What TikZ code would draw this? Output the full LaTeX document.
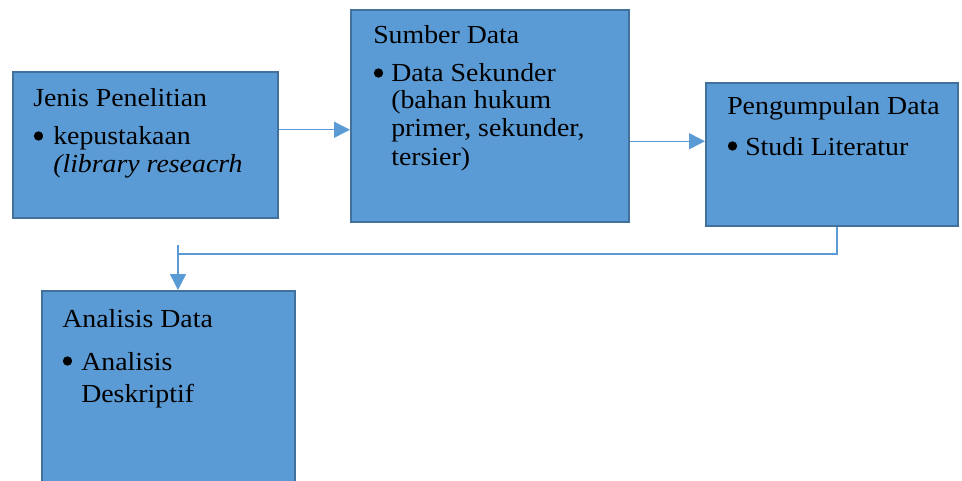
\documentclass[tikz,border=0pt]{standalone}
\usepackage{fontspec}
\setmainfont[FakeStretch=1.07]{Liberation Serif}
\usetikzlibrary{arrows.meta,calc}
\definecolor{boxfill}{HTML}{5B9BD5}
\definecolor{boxline}{HTML}{41719C}
\definecolor{connc}{HTML}{5B9BD5}
\begin{document}
\begin{tikzpicture}[x=0.75pt,y=-0.75pt,
  box/.style={draw=boxline, line width=1.5pt, fill=boxfill, anchor=north west, inner sep=0pt},
  txt/.style={anchor=base west, inner sep=0pt, font=\fontsize{19.5}{23}\selectfont},
  itxt/.style={anchor=base west, inner sep=0pt, font=\fontsize{19.5}{23}\selectfont\itshape},
  bul/.style={circle, fill=black, inner sep=0pt, minimum size=7pt},
  connline/.style={draw=connc, line width=1.1pt},
  arr/.style={connline, -{Triangle[length=12pt,width=12pt]}}]
\useasboundingbox (0,0) rectangle (962,481);
\clip (0,0) rectangle (962,481);
\fill[white] (0,0) rectangle (962,481);

% boxes
\node[box, minimum width=198.75pt, minimum height=109.5pt] (b1) at (12,71) {};
\node[box, minimum width=208.5pt, minimum height=159pt] (b2) at (350,9) {};
\node[box, minimum width=189pt, minimum height=107.25pt] (b3) at (705,82) {};
\node[box, minimum width=189.75pt, minimum height=150pt] (b4) at (41,290) {};

% box 1 text
\node[txt] (t1a) at (33,107) {Jenis Penelitian};
\node[bul] (t1b) at (38.5,136) {};
\node[txt] (t1c) at (53,145) {kepustakaan};
\node[itxt] (t1d) at (53,172) {(library reseacrh};

% box 2 text
\node[txt] (t2a) at (373,44) {Sumber Data};
\node[bul] (t2b) at (378.5,73) {};
\node[txt] (t2c) at (391,82) {Data Sekunder};
\node[txt] (t2d) at (391,109) {(bahan hukum};
\node[txt] (t2e) at (391,137) {primer, sekunder,};
\node[txt] (t2f) at (391,165) {tersier)};

% box 3 text
\node[txt] (t3a) at (727,115) {Pengumpulan Data};
\node[bul] (t3b) at (732.5,146) {};
\node[txt] (t3c) at (745,155) {Studi Literatur};

% box 4 text
\node[txt] (t4a) at (62,327) {Analisis Data};
\node[bul] (t4b) at (67.5,361) {};
\node[txt] (t4c) at (81,370) {Analisis};
\node[txt] (t4d) at (81,402) {Deskriptif};

% connectors
\coordinate (a1) at ($(b1.north east)!0.397!(b1.south east)$);
\draw[arr] (a1) -- (a1 -| b2.west);
\coordinate (a2) at ($(b2.north east)!0.618!(b2.south east)$);
\draw[arr] (a2) -- (a2 -| b3.west);
\coordinate (a3) at ($(b3.south west)!0.52!(b3.south east)$);
\coordinate (j1) at (836,254);
\coordinate (j2) at (177,254);
\coordinate (j3) at (178,245);
\draw[connline] (a3) -- (a3 |- j1) -- (j2);
\draw[arr] (j3) -- (j3 |- b4.north);
\end{tikzpicture}
\end{document}
